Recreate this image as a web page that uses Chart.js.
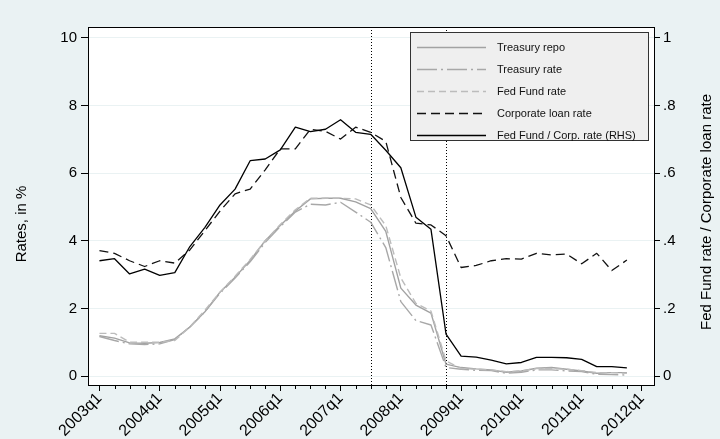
<!DOCTYPE html>
<html><head><meta charset="utf-8">
<script src="https://cdn.jsdelivr.net/npm/chart.js@4/dist/chart.umd.min.js"></script>
<style>html,body{margin:0;padding:0;background:#eaf2f3;overflow:hidden}canvas{display:block}</style>
</head><body>
<div style="width:720px;height:439px;position:relative"><canvas id="c"></canvas></div>
<script>
const quarters = ['2003q1','2003q2','2003q3','2003q4','2004q1','2004q2','2004q3','2004q4',
  '2005q1','2005q2','2005q3','2005q4','2006q1','2006q2','2006q3','2006q4',
  '2007q1','2007q2','2007q3','2007q4','2008q1','2008q2','2008q3','2008q4',
  '2009q1','2009q2','2009q3','2009q4','2010q1','2010q2','2010q3','2010q4',
  '2011q1','2011q2','2011q3','2011q4'];
const treasuryRepo = [1.19,1.12,0.98,0.97,0.99,1.10,1.45,1.90,2.48,2.92,3.42,4.00,4.45,4.88,5.24,5.26,
  5.26,5.15,4.95,4.28,2.60,2.10,1.86,0.35,0.25,0.21,0.18,0.11,0.15,0.23,0.25,0.20,0.15,0.08,0.10,0.10];
const treasuryRate = [1.17,1.05,0.95,0.93,0.95,1.08,1.45,1.90,2.45,2.90,3.38,3.95,4.42,4.85,5.08,5.06,
  5.14,4.85,4.55,3.80,2.20,1.64,1.51,0.25,0.20,0.17,0.16,0.08,0.11,0.18,0.18,0.15,0.13,0.05,0.04,0.03];
const fedFundRate = [1.26,1.26,1.00,1.00,1.00,1.05,1.45,1.95,2.48,2.95,3.45,4.00,4.48,4.92,5.26,5.26,
  5.26,5.24,5.06,4.45,2.90,2.15,1.92,0.45,0.22,0.20,0.18,0.13,0.15,0.22,0.22,0.20,0.16,0.10,0.10,0.08];
const corporateLoanRate = [3.71,3.63,3.41,3.24,3.41,3.34,3.73,4.30,4.88,5.39,5.53,6.10,6.72,6.72,7.30,7.24,
  7.01,7.36,7.21,6.94,5.28,4.52,4.47,4.15,3.21,3.27,3.41,3.47,3.46,3.63,3.58,3.61,3.32,3.63,3.12,3.43];
const fedCorpRatio = [0.341,0.347,0.302,0.316,0.298,0.306,0.383,0.440,0.506,0.553,0.637,0.642,0.669,0.736,0.723,0.730,
  0.758,0.721,0.715,0.668,0.616,0.470,0.434,0.124,0.059,0.056,0.047,0.036,0.040,0.055,0.055,0.054,0.049,0.028,0.028,0.024];
const xTickValues = [0,4,8,12,16,20,24,28,32,36];
const xTickLabels = ['2003q1','2004q1','2005q1','2006q1','2007q1','2008q1','2009q1','2010q1','2011q1','2012q1'];
const yLeftTicks = [0,2,4,6,8,10];
const yLeftLabels = ['0','2','4','6','8','10'];
const yRightTicks = [0,0.2,0.4,0.6,0.8,1];
const yRightLabels = ['0','.2','.4','.6','.8','1'];
const eventQuarters = [18,23];

const FONT = "'Liberation Sans', Arial, Helvetica, sans-serif";
const pts = arr => arr.map((v,i)=>({x:i,y:v}));

const series = [
  {label:'Treasury repo', data:pts(treasuryRepo), borderColor:'#a2a2a2', borderDash:[], yAxisID:'y', order:5, borderWidth:1.4},
  {label:'Treasury rate', data:pts(treasuryRate), borderColor:'#a8a8a8', borderDash:[20,4,2,4], yAxisID:'y', order:4, borderWidth:1.4},
  {label:'Fed Fund rate', data:pts(fedFundRate), borderColor:'#bcbcbc', borderDash:[7,4], yAxisID:'y', order:3, borderWidth:1.4},
  {label:'Corporate loan rate', data:pts(corporateLoanRate), borderColor:'#111111', borderDash:[9,5], yAxisID:'y', order:2, borderWidth:1.3},
  {label:'Fed Fund / Corp. rate (RHS)', data:pts(fedCorpRatio), borderColor:'#000000', borderDash:[], yAxisID:'y2', order:1, borderWidth:1.3}
];
series.forEach(s=>{s.pointRadius=0;s.fill=false;s.tension=0;s.borderJoinStyle='round';});

const framePlugin = {
  id:'frame',
  beforeDraw(chart){
    const {ctx, chartArea:a} = chart;
    ctx.save();
    ctx.fillStyle='#eaf2f3'; ctx.fillRect(0,0,chart.width,chart.height);
    ctx.fillStyle='#ffffff'; ctx.fillRect(a.left,a.top,a.right-a.left,a.bottom-a.top);
    ctx.restore();
  },
  beforeDatasetsDraw(chart){
    const {ctx, chartArea:a, scales} = chart;
    ctx.save();
    ctx.strokeStyle='#000'; ctx.lineWidth=1; ctx.setLineDash([1,2]);
    eventQuarters.forEach(q=>{
      const x = Math.round(scales.x.getPixelForValue(q))+0.5;
      ctx.beginPath(); ctx.moveTo(x,a.top); ctx.lineTo(x,a.bottom); ctx.stroke();
    });
    ctx.restore();
  },
  afterDatasetsDraw(chart){
    const {ctx, chartArea:a, scales} = chart;
    ctx.save();
    ctx.strokeStyle='#000'; ctx.lineWidth=1; ctx.setLineDash([]);
    ctx.strokeRect(Math.round(a.left)+0.5, Math.round(a.top)+0.5, Math.round(a.right-a.left), Math.round(a.bottom-a.top));
    const b = Math.round(a.bottom)+0.5;
    quarters.concat(['2012q1']).forEach((q,i)=>{
      if (xTickValues.indexOf(i) >= 0) return;
      const x = Math.round(scales.x.getPixelForValue(i))+0.5;
      ctx.beginPath(); ctx.moveTo(x,b); ctx.lineTo(x,b+3.5); ctx.stroke();
    });
    const L=410.5, T=32.5, W=238, H=108;
    ctx.fillStyle='#efefef'; ctx.fillRect(L,T,W,H);
    ctx.strokeStyle='#333'; ctx.strokeRect(L,T,W,H);
    ctx.font = '11px ' + FONT; ctx.textBaseline='middle'; ctx.textAlign='left';
    series.forEach((s,k)=>{
      const y = 47.5 + 22*k;
      ctx.strokeStyle = s.borderColor; ctx.lineWidth = s.borderWidth + 0.3;
      ctx.setLineDash(s.borderDash);
      ctx.beginPath(); ctx.moveTo(417,y); ctx.lineTo(486,y); ctx.stroke();
      ctx.setLineDash([]);
      ctx.fillStyle='#111'; ctx.fillText(s.label, 497, y+0.5);
    });
    ctx.fillStyle='#000'; ctx.font='15px ' + FONT; ctx.textAlign='center'; ctx.textBaseline='middle';
    ctx.save(); ctx.translate(22,224); ctx.rotate(-Math.PI/2); ctx.fillText('Rates, in %',0,0); ctx.restore();
    ctx.save(); ctx.translate(707,212); ctx.rotate(-Math.PI/2); ctx.fillText('Fed Fund rate / Corporate loan rate',0,0); ctx.restore();
    ctx.restore();
  }
};

new Chart(document.getElementById('c'), {
  type:'line',
  data:{datasets:series},
  options:{
    responsive:true, maintainAspectRatio:false, animation:false,
    layout:{padding:{top:27,left:0,right:0,bottom:0}},
    plugins:{legend:{display:false}, tooltip:{enabled:false}},
    scales:{
      x:{type:'linear', min:-0.76, max:36.8,
        afterBuildTicks:s=>{s.ticks = xTickValues.map(v=>({value:v}));},
        afterFit:s=>{s.height=54;},
        ticks:{autoSkip:false, minRotation:45, maxRotation:45, padding:-2, color:'#000',
          font:{family:FONT,size:16}, callback:(v,i)=>xTickLabels[i]},
        grid:{drawOnChartArea:false, tickLength:6, color:'#000', lineWidth:1},
        border:{color:'#000'}},
      y:{position:'left', min:-0.266, max:10.325,
        afterBuildTicks:s=>{s.ticks = yLeftTicks.map(v=>({value:v}));},
        afterFit:s=>{s.width=88;},
        ticks:{padding:4, color:'#000', font:{family:FONT,size:15}, callback:(v,i)=>yLeftLabels[i]},
        grid:{color:'#eaf2f3', tickColor:'#000', tickLength:7, lineWidth:1},
        border:{color:'#000'}},
      y2:{position:'right', min:-0.0266, max:1.0325,
        afterBuildTicks:s=>{s.ticks = yRightTicks.map(v=>({value:v}));},
        afterFit:s=>{s.width=66;},
        ticks:{padding:3, color:'#000', font:{family:FONT,size:15}, callback:(v,i)=>yRightLabels[i]},
        grid:{drawOnChartArea:false, tickColor:'#000', tickLength:6, lineWidth:1},
        border:{color:'#000'}}
    }
  },
  plugins:[framePlugin]
});
</script>
</body></html>
